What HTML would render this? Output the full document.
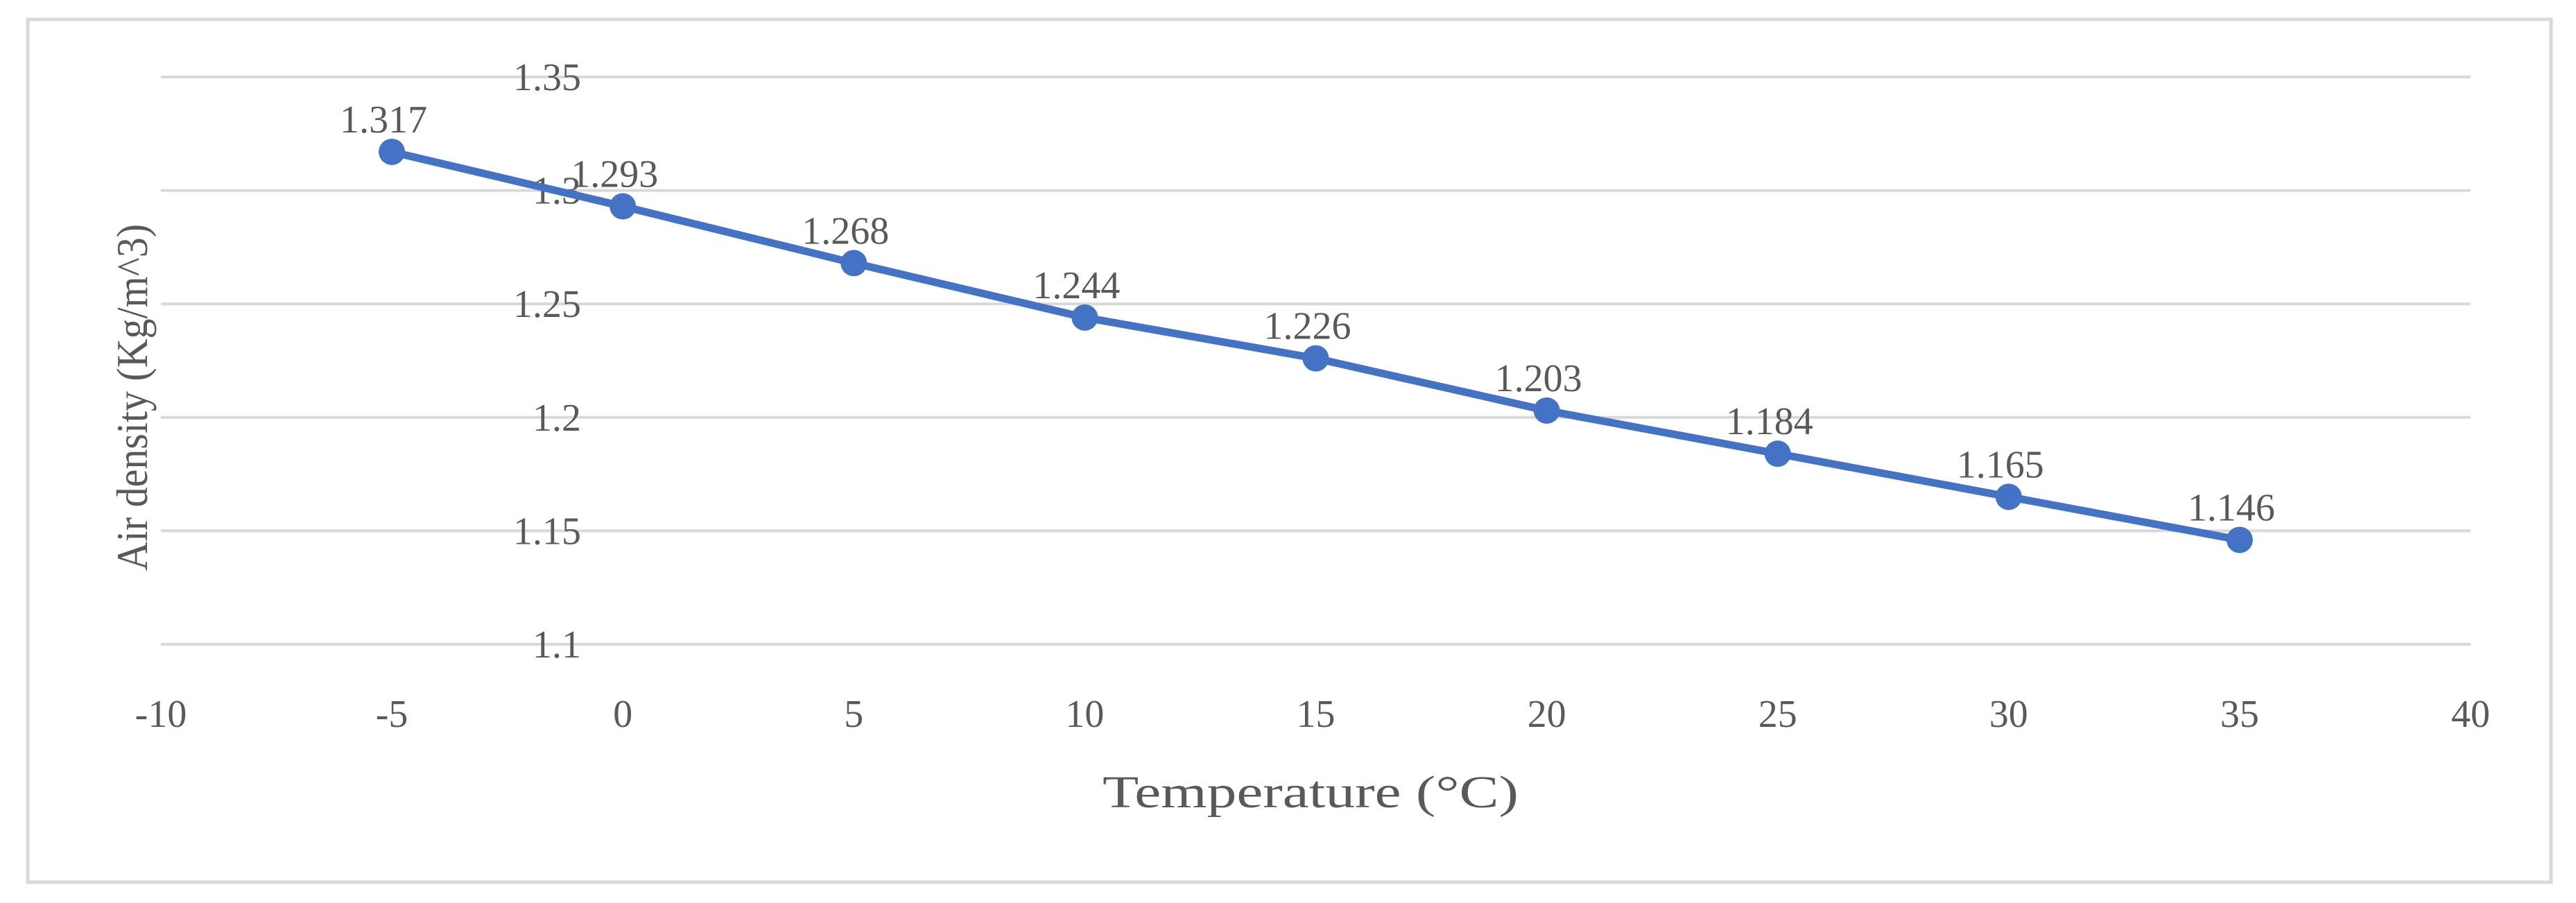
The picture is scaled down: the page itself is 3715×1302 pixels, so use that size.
<!DOCTYPE html>
<html><head><meta charset="utf-8"><style>
html,body{margin:0;padding:0;background:#fff;}
svg{display:block;font-family:"Liberation Serif",serif;}
</style></head><body>
<svg id="chart" width="3715" height="1302" viewBox="0 0 3715 1302">
<rect x="40" y="28" width="3639" height="1244" fill="#fff" stroke="#d9d9d9" stroke-width="5"/>
<g id="grid"></g><g id="yticks"></g><g id="xticks"></g><g id="series"></g><g id="labels"></g>
<text transform="translate(212,573) rotate(-90)" text-anchor="middle" font-size="64" fill="#595959" textLength="500" lengthAdjust="spacingAndGlyphs">Air density (Kg/m^3)</text>
<text x="1890" y="1164" text-anchor="middle" font-size="66" fill="#595959" textLength="600" lengthAdjust="spacingAndGlyphs">Temperature (°C)</text>
</svg>
<script>
const temps=[-5,0,5,10,15,20,25,30,35];
const density=[1.317,1.293,1.268,1.244,1.226,1.203,1.184,1.165,1.146];
const densityLabels=["1.317","1.293","1.268","1.244","1.226","1.203","1.184","1.165","1.146"];
const yTicks=[1.1,1.15,1.2,1.25,1.3,1.35];
const yTickLabels=["1.1","1.15","1.2","1.25","1.3","1.35"];
const xTicks=[-10,-5,0,5,10,15,20,25,30,35,40];
const xTickLabels=["-10","-5","0","5","10","15","20","25","30","35","40"];

const NS="http://www.w3.org/2000/svg";
const X0=232,X1=3563,Y0=929,Y1=111;
const xs=v=>X0+(v-(-10))/50*(X1-X0);
const ys=v=>Y0-(v-1.1)/0.25*(Y0-Y1);
function mk(tag,attrs,parent,txt){const e=document.createElementNS(NS,tag);for(const k in attrs)e.setAttribute(k,attrs[k]);if(txt!=null)e.textContent=txt;document.getElementById(parent).appendChild(e);return e;}

yTicks.forEach((t,i)=>{
  const g=mk('line',{x1:X0,x2:X1,y1:ys(t),y2:ys(t),stroke:'#d9d9d9','stroke-width':4},'grid');
  
  
  const l=mk('text',{x:838,y:ys(t)+19,'text-anchor':'end','font-size':56,fill:'#595959'},'yticks',yTickLabels[i]);
  
  
});
xTicks.forEach((t,i)=>{
  const l=mk('text',{x:xs(t),y:1048,'text-anchor':'middle','font-size':56,fill:'#595959'},'xticks',xTickLabels[i]);
  
  
});
const pts=temps.map((t,i)=>xs(t)+','+ys(density[i])).join(' ');
const pl=mk('polyline',{points:pts,fill:'none',stroke:'#4472C4','stroke-width':11,'stroke-linejoin':'round'},'series');


temps.forEach((t,i)=>{
  const c=mk('circle',{cx:xs(t),cy:ys(density[i]),r:19,fill:'#4472C4'},'series');
  
  
  const l=mk('text',{x:xs(t)-12,y:ys(density[i])-28,'text-anchor':'middle','font-size':56,fill:'#595959'},'labels',densityLabels[i]);
  
  
});
</script>
</body></html>
